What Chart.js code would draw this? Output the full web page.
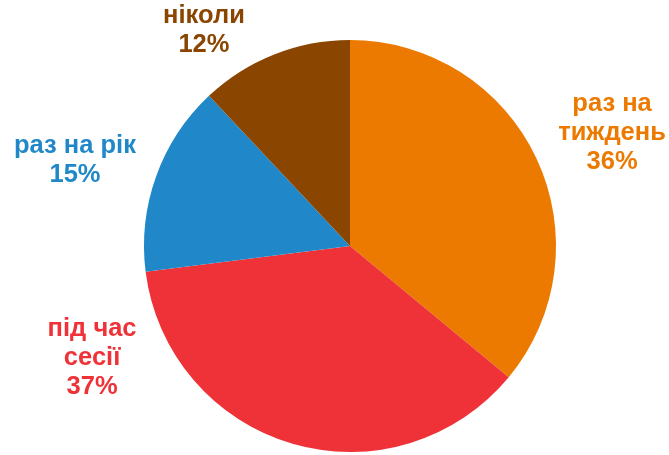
<!DOCTYPE html>
<html>
<head>
<meta charset="utf-8">
<script src="https://cdn.jsdelivr.net/npm/chart.js@4"></script>
<style>
  html, body { margin: 0; padding: 0; background: #fff; }
  #wrap { width: 669px; height: 455px; }
</style>
</head>
<body>
<div id="wrap"><canvas id="pie"></canvas></div>
<script>
// data
var labels = [['раз на', 'тиждень'], ['під час', 'сесії'], ['раз на рік'], ['ніколи']];
var shares = [36, 37, 15, 12];
var colors = ['#EC7A00', '#EE3237', '#2088C9', '#8A4500'];

// where each label sits, relative to pie centre, in radius units
var labelPos = [[1.272, -0.549], [-1.252, 0.544], [-1.335, -0.417], [-0.709, -1.044]];

var outsideLabels = {
    id: 'outsideLabels',
    afterDraw: function(chart) {
        var ctx = chart.ctx;
        var arc0 = chart.getDatasetMeta(0).data[0];
        var cx = arc0.x, cy = arc0.y, r = arc0.outerRadius;
        ctx.save();
        ctx.font = 'bold 25.5px "Liberation Sans", Arial, sans-serif';
        ctx.textAlign = 'center';
        ctx.textBaseline = 'middle';
        var lh = 29;
        shares.forEach(function(v, i) {
            var lines = labels[i].concat([v + '%']);
            var x = cx + labelPos[i][0] * r;
            var y = cy + labelPos[i][1] * r - (lines.length - 1) * lh / 2;
            ctx.fillStyle = colors[i];
            lines.forEach(function(t, k) {
                ctx.fillText(t, x, y + k * lh);
            });
        });
        ctx.restore();
    }
};

var chart = new Chart(document.getElementById('pie'), {
    type: 'pie',
    data: {
        labels: labels.map(function(l) { return l.join(' '); }),
        datasets: [{
            data: shares,
            backgroundColor: colors,
            borderWidth: 0
        }]
    },
    options: {
        responsive: true,
        maintainAspectRatio: false,
        animation: false,
        layout: { padding: { top: 40, bottom: 3, left: 31, right: 0 } },
        plugins: {
            legend: { display: false },
            tooltip: { enabled: false }
        }
    },
    plugins: [outsideLabels]
});
</script>
</body>
</html>
